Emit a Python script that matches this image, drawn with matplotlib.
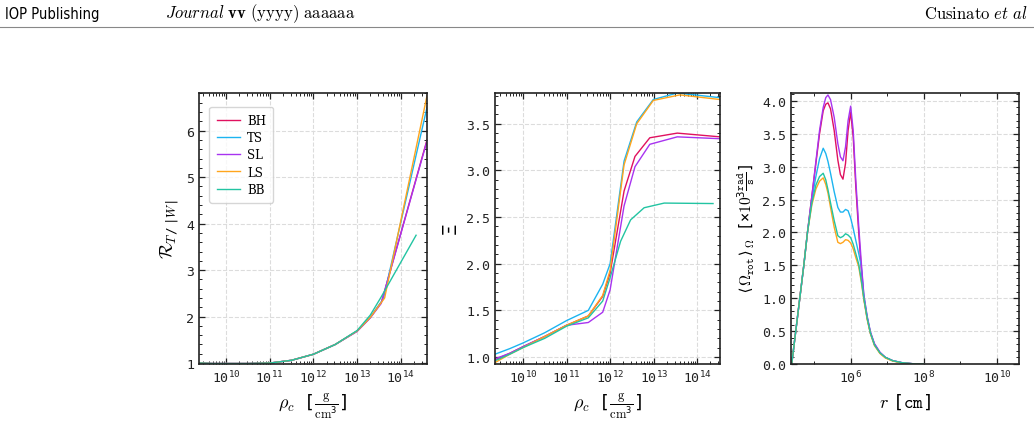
import numpy as np
import matplotlib
matplotlib.use('Agg')
import matplotlib.pyplot as plt
from matplotlib.lines import Line2D
from matplotlib.ticker import LogLocator, MultipleLocator, NullFormatter, FormatStrFormatter

plt.rcParams['mathtext.fontset'] = 'cm'
plt.rcParams['font.family'] = 'DejaVu Sans Mono'
plt.rcParams['mathtext.default'] = 'regular'

labels = ['BH', 'TS', 'SL', 'LS', 'BB']
colors = ['#e0115f', '#1cb4f0', '#a833f0', '#ffa51c', '#22c4a2']

# panel 1: R_{T/|W|} vs log10(rho_c)
r_x = {
    'BH': [9.38, 9.7, 10.0, 10.5, 11.0, 11.5, 12.0, 12.5, 13.0, 13.3, 13.56, 14.6],
    'TS': [9.38, 9.7, 10.0, 10.5, 11.0, 11.5, 12.0, 12.5, 13.0, 13.3, 13.6, 14.6],
    'SL': [9.38, 9.7, 10.0, 10.5, 11.0, 11.5, 12.0, 12.5, 13.0, 13.3, 13.55, 14.6],
    'LS': [9.38, 9.7, 10.0, 10.5, 11.0, 11.5, 12.0, 12.5, 13.0, 13.3, 13.63, 14.6],
    'BB': [9.38, 9.7, 10.0, 10.5, 11.0, 11.5, 12.0, 12.5, 13.0, 13.3, 13.55, 14.35],
}
r_y = {
    'BH': [1.0, 0.99, 0.99, 0.99, 1.0, 1.06, 1.19, 1.40, 1.69, 1.98, 2.32, 5.80],
    'TS': [1.0, 0.99, 0.99, 0.99, 1.0, 1.06, 1.19, 1.40, 1.69, 1.98, 2.38, 6.50],
    'SL': [1.0, 0.99, 0.99, 0.99, 1.0, 1.06, 1.19, 1.40, 1.68, 1.97, 2.28, 5.78],
    'LS': [1.0, 0.99, 0.99, 0.99, 1.0, 1.06, 1.19, 1.40, 1.69, 1.98, 2.40, 6.75],
    'BB': [1.0, 0.99, 0.99, 0.99, 1.0, 1.06, 1.19, 1.40, 1.70, 2.03, 2.42, 3.75],
}

# panel 2: Xi vs log10(rho_c)
xi_x = {
    'BH': [9.36, 9.7, 10.0, 10.5, 11.0, 11.5, 11.83, 12.0, 12.32, 12.57, 12.91, 13.54, 14.52],
    'TS': [9.36, 9.7, 10.0, 10.5, 11.0, 11.5, 11.83, 12.0, 12.32, 12.61, 12.99, 13.54, 14.52],
    'SL': [9.36, 9.7, 10.0, 10.5, 11.0, 11.5, 11.83, 12.0, 12.32, 12.57, 12.91, 13.54, 14.52],
    'LS': [9.36, 9.7, 10.0, 10.5, 11.0, 11.5, 11.83, 12.0, 12.32, 12.61, 12.99, 13.6, 14.52],
    'BB': [9.36, 9.7, 10.0, 10.5, 11.0, 11.5, 11.83, 12.0, 12.24, 12.47, 12.78, 13.24, 14.36],
}
xi_y = {
    'BH': [0.97, 1.04, 1.11, 1.22, 1.34, 1.44, 1.65, 1.90, 2.78, 3.15, 3.35, 3.40, 3.36],
    'TS': [1.03, 1.09, 1.15, 1.26, 1.39, 1.50, 1.78, 2.00, 3.10, 3.52, 3.76, 3.83, 3.78],
    'SL': [0.98, 1.04, 1.11, 1.22, 1.34, 1.37, 1.48, 1.72, 2.62, 3.04, 3.28, 3.36, 3.34],
    'LS': [0.94, 1.03, 1.10, 1.22, 1.34, 1.44, 1.66, 1.93, 3.06, 3.50, 3.75, 3.81, 3.76],
    'BB': [0.96, 1.03, 1.10, 1.20, 1.33, 1.42, 1.60, 1.85, 2.24, 2.47, 2.60, 2.65, 2.645],
}

# panel 3: <Omega_rot> vs log10(r)
om_x = [4.39, 4.5, 4.61, 4.72, 4.82, 4.94, 5.05, 5.15, 5.25, 5.32, 5.38, 5.45, 5.55,
        5.65, 5.72, 5.79, 5.86, 5.93, 6.0, 6.07, 6.14, 6.22, 6.29, 6.36, 6.45, 6.54,
        6.65, 6.8, 6.95, 7.15, 7.4, 7.77, 8.0]
om_y = {
    'BH': [0, 0.5, 1.0, 1.5, 2.0, 2.55, 3.05, 3.5, 3.85, 3.95, 3.97, 3.88, 3.55,
           3.1, 2.88, 2.81, 3.05, 3.55, 3.83, 3.45, 2.7, 2.0, 1.45, 1.0, 0.7, 0.47,
           0.3, 0.17, 0.1, 0.05, 0.02, 0.0, 0.0],
    'TS': [0, 0.5, 1.0, 1.5, 2.0, 2.5, 2.85, 3.12, 3.28, 3.2, 3.08, 2.9, 2.62,
           2.38, 2.31, 2.31, 2.35, 2.33, 2.22, 2.06, 1.88, 1.68, 1.49, 1.05, 0.72, 0.48,
           0.3, 0.17, 0.1, 0.05, 0.02, 0.0, 0.0],
    'SL': [0, 0.5, 1.0, 1.5, 2.0, 2.55, 3.08, 3.55, 3.9, 4.05, 4.09, 4.02, 3.75,
           3.35, 3.15, 3.09, 3.3, 3.7, 3.92, 3.55, 2.8, 2.1, 1.55, 1.05, 0.73, 0.49,
           0.31, 0.18, 0.1, 0.05, 0.02, 0.0, 0.0],
    'LS': [0, 0.5, 1.0, 1.5, 2.0, 2.42, 2.66, 2.78, 2.83, 2.73, 2.6, 2.38, 2.08,
           1.85, 1.83, 1.85, 1.89, 1.88, 1.84, 1.75, 1.62, 1.48, 1.25, 0.98, 0.68, 0.46,
           0.28, 0.16, 0.09, 0.045, 0.015, 0.0, 0.0],
    'BB': [0, 0.5, 1.0, 1.5, 2.0, 2.45, 2.72, 2.85, 2.9, 2.8, 2.65, 2.45, 2.18,
           1.95, 1.92, 1.94, 1.98, 1.96, 1.92, 1.82, 1.68, 1.52, 1.28, 1.0, 0.7, 0.47,
           0.29, 0.17, 0.1, 0.05, 0.02, 0.0, 0.0],
}

W, H = 1034, 439
fig = plt.figure(figsize=(W / 100, H / 100), dpi=100)

# page header
fig.text(5 / W, 1 - 14 / H, 'IOP Publishing', family='DejaVu Sans', fontsize=10.5,
         va='center', stretch='condensed')
fig.text(165 / W, 1 - 14 / H, r'$\mathit{Journal}\ \mathbf{vv}\ \mathrm{(yyyy)\ aaaaaa}$',
         fontsize=12, va='center')
fig.text(1028 / W, 1 - 14 / H, r'$\mathrm{Cusinato}\ \mathit{et\ al}$', fontsize=12,
         va='center', ha='right')
fig.add_artist(Line2D([0, 1], [1 - 28 / H] * 2, color='#888888', lw=0.8))

ax1 = fig.add_axes([199 / W, 1 - 365 / H, 228 / W, 271 / H])
ax2 = fig.add_axes([495 / W, 1 - 365 / H, 225 / W, 271 / H])
ax3 = fig.add_axes([791 / W, 1 - 365 / H, 228 / W, 271 / H])


def style(ax):
    ax.tick_params(which='both', direction='in', top=True, right=True, labelsize=9.5,
                   colors='#222222')
    ax.tick_params(which='major', length=4, width=0.9)
    ax.tick_params(which='minor', length=2, width=0.7)
    ax.grid(True, which='major', ls='--', color='#dcdcdc', lw=0.8)
    ax.set_axisbelow(True)
    for s in ax.spines.values():
        s.set_linewidth(1.2)
        s.set_color('#222222')


for lab, c in zip(labels, colors):
    ax1.plot(10 ** np.array(r_x[lab]), r_y[lab], color=c, lw=1.0, label=lab)
    ax2.plot(10 ** np.array(xi_x[lab]), xi_y[lab], color=c, lw=1.0, label=lab)
    ax3.plot(10 ** np.array(om_x), om_y[lab], color=c, lw=1.0, label=lab)

rho_label = r'$\mathit{\rho}_\mathit{c}\ \ [\frac{\mathrm{g}}{\mathrm{cm}^3}]$'
for ax in (ax1, ax2):
    ax.set_xscale('log')
    ax.xaxis.set_major_locator(LogLocator(base=10, numticks=20))
    ax.xaxis.set_minor_locator(LogLocator(base=10, subs=np.arange(2, 10), numticks=20))
    ax.xaxis.set_minor_formatter(NullFormatter())
    ax.set_xlabel(rho_label, fontsize=13)

ax1.set_xlim(10 ** 9.38, 10 ** 14.6)
ax1.set_ylim(0.98, 6.81)
ax1.yaxis.set_major_locator(MultipleLocator(1))
ax1.yaxis.set_minor_locator(MultipleLocator(0.2))
ax1.set_ylabel(r'$\mathcal{R}_{\mathit{T}\,/\,|\mathit{W}|}$', fontsize=13)
leg = ax1.legend(loc='upper left', bbox_to_anchor=(0.02, 0.97),
                 prop={'family': 'DejaVu Serif', 'size': 8.5},
                 handlelength=2.0, handletextpad=0.6, borderpad=0.6, labelspacing=0.35,
                 fancybox=True)
leg.get_frame().set_edgecolor('#cccccc')

ax2.set_xlim(10 ** 9.36, 10 ** 14.52)
ax2.set_ylim(0.925, 3.83)
ax2.yaxis.set_major_locator(MultipleLocator(0.5))
ax2.yaxis.set_minor_locator(MultipleLocator(0.1))
ax2.yaxis.set_major_formatter(FormatStrFormatter('%.1f'))
ax2.set_ylabel(r'$\Xi$', fontsize=14)

ax3.set_xscale('log')
ax3.set_xlim(10 ** 4.37, 10 ** 10.6)
ax3.set_ylim(0.0, 4.12)
ax3.xaxis.set_minor_locator(LogLocator(base=10, subs=(1.0,), numticks=20))
ax3.xaxis.set_minor_formatter(NullFormatter())
ax3.set_xticks([1e6, 1e8, 1e10])
ax3.yaxis.set_major_locator(MultipleLocator(0.5))
ax3.yaxis.set_minor_locator(MultipleLocator(0.1))
ax3.yaxis.set_major_formatter(FormatStrFormatter('%.1f'))
ax3.set_xlabel(r'$\mathit{r}\ [\mathtt{cm}]$', fontsize=13)
ax3.set_ylabel(r'$\langle\mathit{\Omega}_{\mathtt{rot}}\rangle_\mathit{\Omega}\ \ '
               r'[\times\mathtt{10}^{3}\frac{\mathtt{rad}}{\mathtt{s}}]$',
               fontsize=11)

for ax in (ax1, ax2, ax3):
    style(ax)

fig.savefig('out.png', dpi=100)
